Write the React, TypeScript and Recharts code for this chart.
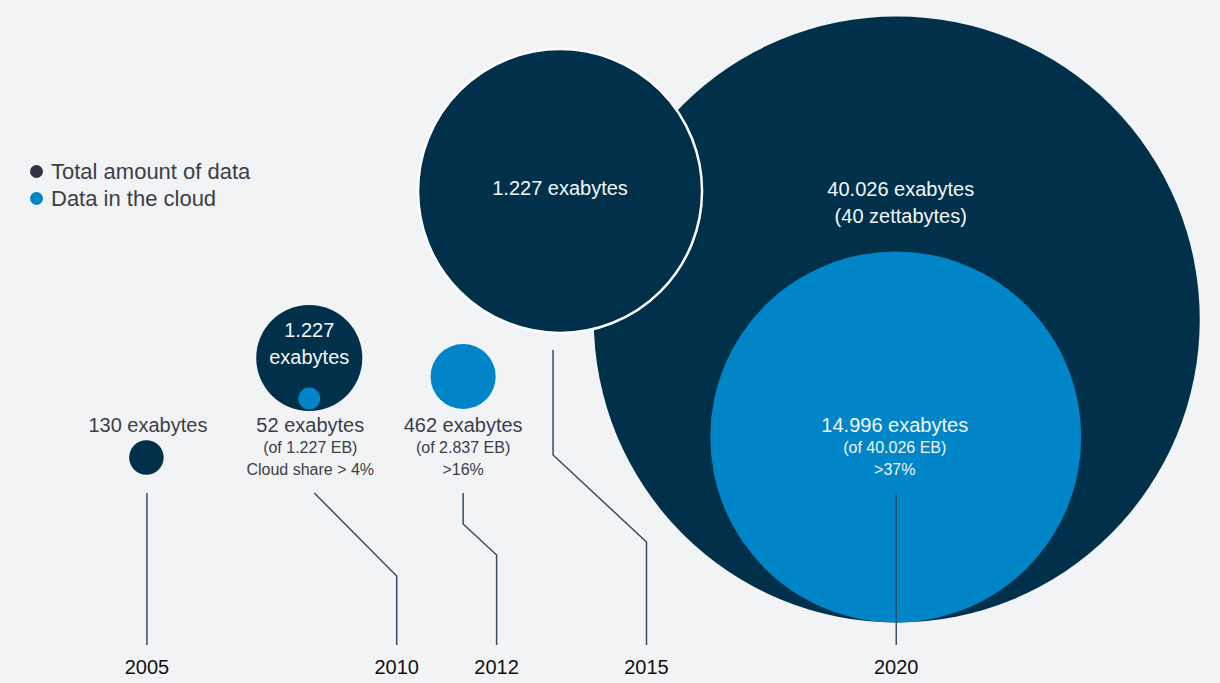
import React from 'react';
import { ScatterChart, Scatter, XAxis, YAxis, ZAxis } from 'recharts';

// year ticks on the timeline
const years = [2005, 2010, 2012, 2015, 2020];

// bubbles: x = position on the year axis, y = height above the baseline, z = exabytes (area)
const bubbleIds = ['t2020', 'c2020', 't2015', 't2005', 't2010', 'c2010', 'c2012'];
const bubbleKinds = ['total', 'cloud', 'total', 'total', 'total', 'cloud', 'cloud'];
const bubbleYears = [2020.01, 2019.99, 2013.27, 2004.99, 2008.25, 2008.25, 2011.33];
const bubbleLevels = [325.5, 208, 454, 187.5, 287, 246.5, 268.5];
const bubbleExabytes = [40026, 14996, 8791, 130, 1227, 52, 462];
const bubbleLabels = [
  ['40.026 exabytes', '(40 zettabytes)'],
  ['14.996 exabytes', '(of 40.026 EB)', '>37%'],
  ['1.227 exabytes'],
  ['130 exabytes'],
  ['1.227', 'exabytes'],
  ['52 exabytes', '(of 1.227 EB)', 'Cloud share > 4%'],
  ['462 exabytes', '(of 2.837 EB)', '>16%'],
];

// leader lines from each label group down to its year
const leader2005 = [
  { year: 2005, level: 152 },
  { year: 2005, level: 0 },
];
const leader2010 = [
  { year: 2008.35, level: 152 },
  { year: 2010, level: 69 },
  { year: 2010, level: 0 },
];
const leader2012 = [
  { year: 2011.33, level: 152 },
  { year: 2011.33, level: 121 },
  { year: 2012, level: 90 },
  { year: 2012, level: 0 },
];
const leader2015 = [
  { year: 2013.13, level: 295 },
  { year: 2013.13, level: 190 },
  { year: 2015, level: 103 },
  { year: 2015, level: 0 },
];
const leader2020 = [
  { year: 2020, level: 152 },
  { year: 2020, level: 0 },
];
const leaders = [leader2005, leader2010, leader2012, leader2015, leader2020];

const legendItems = ['Total amount of data', 'Data in the cloud'];

const NAVY = '#00304a';
const BLUE = '#0085c9';
const BG = '#f2f3f5';
const LABEL = '#3a3f47';
const LINE = '#2f5068';
const FONT = '"Liberation Sans", Arial, Helvetica, sans-serif';
const MAX_R = 303;

const bubbles = bubbleIds.map((id, i) => ({
  id,
  kind: bubbleKinds[i],
  year: bubbleYears[i],
  level: bubbleLevels[i],
  eb: bubbleExabytes[i],
  labels: bubbleLabels[i],
}));

// label placement relative to bubble centre
const labelLayout: Record<string, { dx: number; dys: number[]; sizes: number[]; color: string }> = {
  t2020: { dx: 4, dys: [-130.5, -103.5], sizes: [20, 20], color: '#f4f6f8' },
  c2020: { dx: -1, dys: [-12, 10, 32], sizes: [20, 16, 16], color: '#f4f6f8' },
  t2015: { dx: 0, dys: [-3], sizes: [20], color: '#f4f6f8' },
  t2005: { dx: 1.5, dys: [-33], sizes: [20], color: LABEL },
  t2010: { dx: 0, dys: [-28, -1], sizes: [20, 20], color: '#f4f6f8' },
  c2010: { dx: 1, dys: [26.5, 48.5, 70.5], sizes: [20, 16, 16], color: LABEL },
  c2012: { dx: 0, dys: [48.5, 70.5, 92.5], sizes: [20, 16, 16], color: LABEL },
};

const Bubble = (props: any) => {
  const { cx, cy, width, payload } = props;
  const r = width / 2;
  const lay = labelLayout[payload.id];
  return (
    <g>
      <circle
        cx={cx}
        cy={cy}
        r={r}
        fill={payload.kind === 'cloud' ? BLUE : NAVY}
        stroke={payload.id === 't2015' ? '#ffffff' : 'none'}
        strokeWidth={payload.id === 't2015' ? 2.5 : 0}
      />
      {payload.labels.map((t: string, j: number) => (
        <text
          key={j}
          x={cx + lay.dx}
          y={cy + lay.dys[j]}
          textAnchor="middle"
          dominantBaseline="central"
          fontSize={lay.sizes[j]}
          fontFamily={FONT}
          fill={lay.color}
        >
          {t}
        </text>
      ))}
    </g>
  );
};

const YearTick = (props: any) => {
  const { x, y, payload } = props;
  return (
    <text x={x} y={y} dy={14} textAnchor="middle" dominantBaseline="central" fontSize={20} fontFamily={FONT} fill="#111">
      {payload.value}
    </text>
  );
};

const App: React.FC = () => {
  return (
    <div style={{ position: 'absolute', left: 0, top: 0, width: 1220, height: 683, background: BG }}>
      <ScatterChart width={1220} height={683} margin={{ top: 0, right: 24, bottom: 0, left: 47 }}>
        <XAxis
          type="number"
          dataKey="year"
          domain={[2003, 2026]}
          ticks={years}
          interval={0}
          axisLine={false}
          tickLine={false}
          height={38}
          tick={<YearTick />}
        />
        <YAxis type="number" dataKey="level" domain={[0, 645]} hide />
        <ZAxis type="number" dataKey="eb" domain={[0, 40026]} range={[0, Math.PI * MAX_R * MAX_R]} />
        <Scatter data={bubbles} shape={<Bubble />} isAnimationActive={false} />
        {leaders.map((pts, i) => (
          <Scatter
            key={i}
            data={pts}
            line={{ stroke: LINE, strokeWidth: 1.5 }}
            shape={() => <g />}
            isAnimationActive={false}
          />
        ))}
      </ScatterChart>
      <div style={{ position: 'absolute', left: 30, top: 158, fontFamily: FONT, fontSize: 22, color: LABEL, lineHeight: '27px' }}>
        {legendItems.map((name, i) => (
          <div key={name} style={{ display: 'flex', alignItems: 'center' }}>
            <span
              style={{
                display: 'inline-block',
                width: 13,
                height: 13,
                borderRadius: '50%',
                background: i === 0 ? '#2f3540' : BLUE,
                marginRight: 8,
              }}
            />
            {name}
          </div>
        ))}
      </div>
    </div>
  );
};

export default App;
